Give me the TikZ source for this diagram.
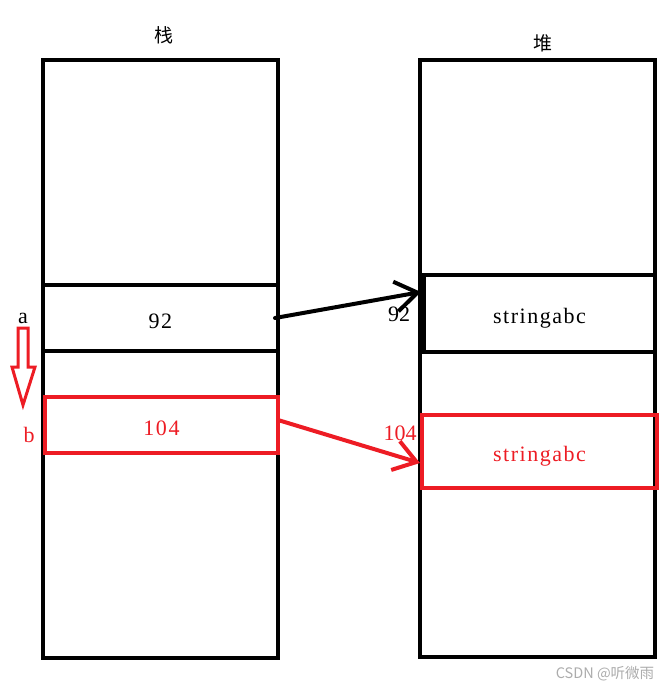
\documentclass[tikz,border=0pt]{standalone}
\usepackage{fontspec}
\setmainfont{Liberation Serif}
\newfontfamily\cjk{Noto Sans CJK SC}
\usetikzlibrary{arrows.meta}
\definecolor{paintred}{HTML}{ED1C24}
\begin{document}
\begin{tikzpicture}[x=1pt,y=-1pt,
	box/.style={draw,line width=4pt,inner sep=0pt,outer sep=0pt,text height=22pt,text depth=2pt,font=\fontsize{22}{22}\selectfont\addfontfeature{LetterSpace=7}},
	lbl/.style={inner sep=0pt,font=\fontsize{22}{22}\selectfont},
	title/.style={inner sep=0pt,font=\cjk\fontsize{19}{19}\selectfont},
	ptr/.style={line width=4pt,line cap=round,-{Straight Barb[length=22pt,width=30pt]}}]
	\useasboundingbox (0,0) rectangle (670,691);

	\node[title] (t0) at (164,35) {栈};
	\node[title] (t1) at (543,43) {堆};

	\node[box,minimum width=235pt,minimum height=598pt] (stack) at (160.5,359) {};
	\node[box,minimum width=235pt,minimum height=597pt] (heap) at (537.5,358.5) {};

	\node[box,minimum width=235pt,minimum height=66pt] (v92) at (160.5,318) {92};
	\node[box,paintred,minimum width=233pt,minimum height=56pt] (v104) at (161.5,425) {104};
	\node[box,minimum width=231pt,minimum height=77pt] (s0) at (539.5,313.5) {stringabc};
	\node[box,paintred,minimum width=235pt,minimum height=73pt] (s1) at (539.5,451.5) {stringabc};

	\node[lbl] (a) at (23,318) {a};
	\node[lbl,paintred] (b) at (29,435) {b};
	\node[lbl] (p0) at (399,314) {92};
	\node[lbl,paintred] (p1) at (400,433) {104};

	\draw[paintred,line width=3pt] (18,328) -- (28,328) -- (28,367) -- (35,367) -- (23,405) -- (12,367) -- (18,367) -- cycle;

	\draw[ptr] ([xshift=-3pt]v92.east) -- ([xshift=-3pt,yshift=21.5pt]s0.west);
	\draw[ptr,paintred] ([yshift=5pt]v104.east) -- ([xshift=-2pt,yshift=-11.5pt]s1.west);

	\node[text=gray!65,inner sep=0pt,font=\cjk\fontsize{14.5}{14.5}\selectfont] (mark) at (605,674) {CSDN @听微雨};
\end{tikzpicture}
\end{document}
